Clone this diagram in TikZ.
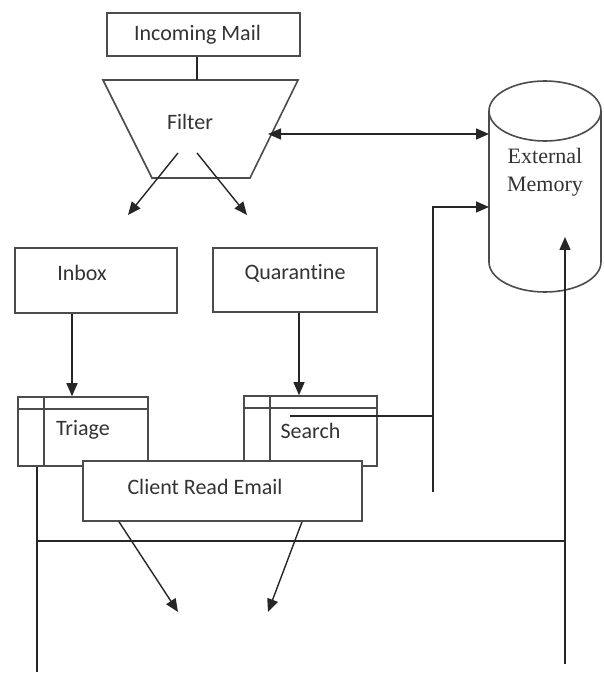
\documentclass[tikz,border=0pt]{standalone}
\usepackage{fontspec}
\setmainfont[Ligatures=NoCommon]{Carlito}
\newfontfamily\memfont{Liberation Serif}
\usepackage{tikz}
\usetikzlibrary{arrows.meta,positioning}

\begin{document}
\begin{tikzpicture}[
		x=0.5pt, y=0.5pt,
		every node/.style={font=\fontsize{11}{13}\selectfont, text=black!80},
		box/.style={rectangle, draw=black!70, line width=0.8pt, fill=white, inner sep=0pt},
		lnk/.style={line width=0.7pt, draw=black!85},
		arr/.style={-{Triangle[length=6.5pt,width=5.5pt]}, line width=0.7pt, draw=black!85},
		dbl/.style={{Triangle[length=6.5pt,width=5.5pt]}-{Triangle[length=6.5pt,width=5.5pt]}, line width=0.7pt, draw=black!85}
		]
		\useasboundingbox (0,0) rectangle (604,676);
		
		% boxes
		\node[box, minimum width=96.5pt, minimum height=21.5pt,
		label={[xshift=-3pt]center:Incoming Mail}] (mail) at (203.5,641.5) {};
		\node[box, minimum width=81pt, minimum height=32.5pt,
		label={[xshift=-7pt, yshift=3.75pt]center:Inbox}] (inbox) at (96,395.5) {};
		\node[box, minimum width=82pt, minimum height=32pt,
		label={[yshift=3.5pt]center:Quarantine}] (quar) at (295,396) {};
		\node[box, minimum width=65pt, minimum height=34.5pt,
		label={[yshift=0.75pt]center:Triage}] (triage) at (83,244.5) {};
		\node[box, minimum width=66.5pt, minimum height=35pt,
		label={center:Search}] (search) at (310.5,245) {};
		\foreach \t in {triage,search}{
			\draw[box] ([yshift=-6.5pt]\t.north west) -- ([yshift=-6.5pt]\t.north east);
			\draw[box] ([xshift=13.5pt]\t.north west) -- ([xshift=13.5pt]\t.south west);
		}
		
		% filter
		\draw[box] (103,596) -- (298,596) -- (250,498) -- (152,498) -- cycle;
		\node (filter) at (190,554) {Filter};
		
		% external memory
		\draw[box] (489,565) -- (489,414) arc[start angle=180, end angle=360, x radius=56, y radius=30] -- (601,565);
		\draw[box] (545,565) ellipse [x radius=56, y radius=30];
		\node[align=center, font=\memfont\fontsize{11}{14}\selectfont] (mem) at (545,504) {External\\Memory};
		
		\coordinate (ftop) at (197,596);
		\coordinate (fl) at (178,523);
		\coordinate (fr) at (197,523);
		\coordinate (tl) at (128,461);
		\coordinate (tr) at (247,461);
		\coordinate (fe) at (268,542);
		\coordinate (me) at (489,542);
		\coordinate (sr) at (290,260);
		\coordinate (jn) at (433,260);
		\coordinate (vb) at (433,184);
		\coordinate (mw) at (489,469);
		\coordinate (lb) at (37,4);
		\coordinate (bl) at (37,135);
		\coordinate (br) at (565,135);
		\coordinate (rb) at (565,12);
		\coordinate (mb) at (565,439);
		\coordinate (o1) at (178,64);
		\coordinate (o2) at (268,64);
		
		\draw[lnk] (mail.south -| ftop) -- (ftop);
		\draw[arr] (fl) -- (tl);
		\draw[arr] (fr) -- (tr);
		\draw[dbl] (fe) -- (me);
		\draw[arr] ([xshift=-12pt]inbox.south) -- ([xshift=-12pt]inbox.south |- triage.north);
		\draw[arr] ([xshift=2pt]quar.south) -- ([xshift=2pt]quar.south |- search.north);
		\draw[lnk] (sr) -- (jn);
		\draw[arr] (vb) |- (mw);
		\draw[lnk] (triage.south -| lb) -- (lb);
		\draw[lnk] (bl) -- (br);
		\draw[arr] (rb) -- (mb);
		
		% client on top
		\node[box, minimum width=139.5pt, minimum height=30pt,
		label={[xshift=-8.75pt, yshift=2pt]center:Client Read Email}] (client) at (222.5,185) {};
		\draw[arr] ([xshift=-51.75pt]client.south) -- (o1);
		\draw[arr] ([xshift=39.75pt]client.south) -- (o2);
\end{tikzpicture}
\end{document}
